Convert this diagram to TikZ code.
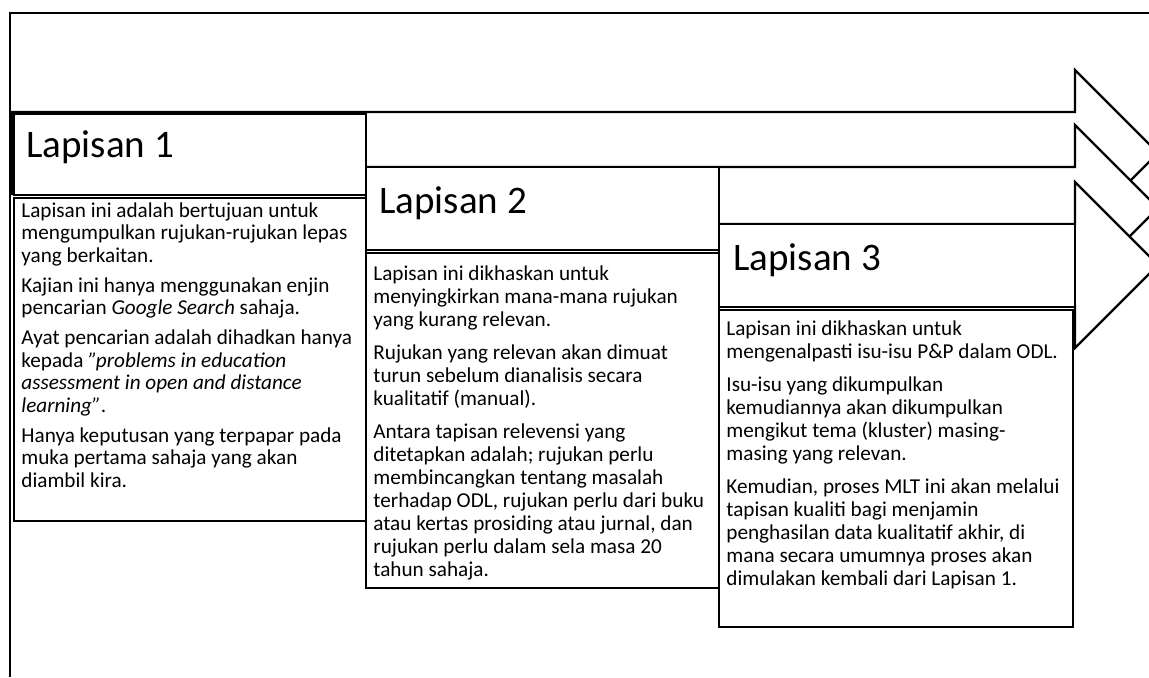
\documentclass[tikz,border=0pt]{standalone}
\usepackage{fontspec}
\setmainfont{Carlito}
\usepackage{tikz}
\usetikzlibrary{positioning}
\tikzstyle{layerarrow} = [draw, line width=1.1pt, fill=white, line join=miter]
\tikzstyle{layerbox} = [draw, line width=1.1pt, fill=white]
\tikzstyle{layertitle} = [anchor=base west, inner sep=0pt, font=\fontsize{19.5}{23}\selectfont]
\tikzstyle{layertext} = [anchor=north west, inner sep=0pt, align=left, font=\fontsize{10.6}{11.5}\selectfont]
\newcommand{\sq}{\symbol{34}}

\begin{document}
\begin{tikzpicture} [x=0.5pt, y=-0.5pt]

  \useasboundingbox (0,0) rectangle (1149,677);
  \clip (0,0) rectangle (1149,677);

  \draw[line width=1pt] (10,677) -- (10,13) -- (1149,13);

  % three staggered arrows
  \draw[layerarrow] (12,112) -- (1075,112) -- (1075,70) -- (1158,153) -- (1075,236) -- (1075,194) -- (12,194) -- cycle;
  \draw[layerarrow] (366,167) -- (1075,167) -- (1075,125) -- (1158,208) -- (1075,291) -- (1075,249) -- (366,249) -- cycle;
  \draw[layerarrow] (719,224) -- (1075,224) -- (1075,182) -- (1158,265) -- (1075,348) -- (1075,306) -- (719,306) -- cycle;

  % boxes
  \draw[layerbox] (14,114) rectangle (366,195);
  \draw[layerbox] (14,198) rectangle (366,521);
  \draw[layerbox] (366,167) rectangle (719,250);
  \draw[layerbox] (366,253) rectangle (719,588);
  \draw[layerbox] (719,224) rectangle (1075,307);
  \draw[layerbox] (719,310) rectangle (1073,627);

  \node[layertitle] (lap1) at (26,157) {Lapisan 1};
  \node[layertitle] (lap2) at (379,213) {Lapisan 2};
  \node[layertitle] (lap3) at (733,270) {Lapisan 3};

  \node[layertext, font=\fontsize{10.6}{11.25}\selectfont] (isi1) at (21,202) {Lapisan ini adalah bertujuan untuk\\
    mengumpulkan rujukan-rujukan lepas\\
    yang berkaitan.\\[3.75pt]
    Kajian ini hanya menggunakan enjin\\
    pencarian \textit{Google Search} sahaja.\\[3.75pt]
    Ayat pencarian adalah dihadkan hanya\\
    kepada \textit{\sq problems in education}\\
    \textit{assessment in open and distance}\\
    \textit{learning\sq}.\\[3.75pt]
    Hanya keputusan yang terpapar pada\\
    muka pertama sahaja yang akan\\
    diambil kira.};

  \node[layertext] (isi2) at (373,265) {Lapisan ini dikhaskan untuk\\
    menyingkirkan mana-mana rujukan\\
    yang kurang relevan.\\[5pt]
    Rujukan yang relevan akan dimuat\\
    turun sebelum dianalisis secara\\
    kualitatif (manual).\\[5pt]
    Antara tapisan relevensi yang\\
    ditetapkan adalah; rujukan perlu\\
    membincangkan tentang masalah\\
    terhadap ODL, rujukan perlu dari buku\\
    atau kertas prosiding atau jurnal, dan\\
    rujukan perlu dalam sela masa 20\\
    tahun sahaja.};

  \node[layertext] (isi3) at (726,320) {Lapisan ini dikhaskan untuk\\
    mengenalpasti isu-isu P\&P dalam ODL.\\[5pt]
    Isu-isu yang dikumpulkan\\
    kemudiannya akan dikumpulkan\\
    mengikut tema (kluster) masing-\\
    masing yang relevan.\\[5pt]
    Kemudian, proses MLT ini akan melalui\\
    tapisan kualiti bagi menjamin\\
    penghasilan data kualitatif akhir, di\\
    mana secara umumnya proses akan\\
    dimulakan kembali dari Lapisan 1.};

\end{tikzpicture}
\end{document}
